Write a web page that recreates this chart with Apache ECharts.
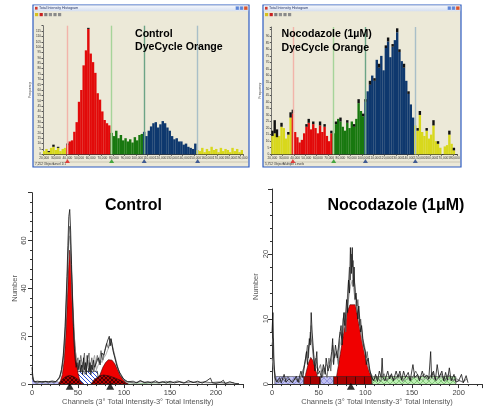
<!DOCTYPE html>
<html><head><meta charset="utf-8">
<script src="https://cdn.jsdelivr.net/npm/echarts@6/dist/echarts.min.js"></script>
<style>html,body{margin:0;padding:0;background:#fff}#c{width:485px;height:407px}</style>
</head><body><div id="c"></div>
<script>
// ===== Top-left: Control, DyeCycle Orange (bin width 2,000 from 20,000) =====
const tlBinStart = 20000, tlBinWidth = 2000;
const tlValues = [3,5,2,6,7,4,6,3,5,6,
  9,12,13,21,30,49,60,83,97,117,94,86,76,57,51,40,32,29,27,
  20,17,22,15,18,13,15,12,14,11,16,13,18,19,
  21,17,22,26,29,30,25,28,31,29,25,22,17,14,15,12,12,9,10,7,6,5,10,
  4,3,6,2,5,3,7,4,5,2,6,3,5,4,2,6,3,5,2,4];
const tlCaps = [0,0,1,0,2,0,1,0,0,0,
  1,0,0,0,0,0,0,0,0,1,0,0,0,0,0,0,0,0,0,
  0,0,0,0,0,0,0,0,0,0,0,0,0,0,
  0,0,0,0,0,0,0,0,0,0,0,0,0,0,0,0,0,0,0,0,0,0,0,
  0,0,0,0,0,0,0,0,0,0,0,0,0,0,0,0,0,0,0,0];
const tlRegionStart = [10, 29, 43, 66];   // red, green, blue, yellow start bins

// ===== Top-right: Nocodazole (1µM), DyeCycle Orange =====
const trBinStart = 20000, trBinWidth = 2000;
const trValues = [14,16,13,14,21,20,12,15,28,
  31,17,13,9,11,16,21,24,19,23,20,16,22,17,21,14,10,16,
  16,23,27,25,21,18,24,20,25,21,27,39,33,29,
  40,48,53,60,56,72,66,75,64,81,86,74,82,87,93,78,71,66,56,46,38,28,
  22,18,30,17,14,18,12,15,22,10,8,5,0,6,7,15,8,3,0];
const trCaps = [4,10,6,0,3,0,0,2,4,
  3,0,0,0,0,0,2,3,0,2,0,0,3,0,2,0,0,2,
  0,2,0,3,0,0,2,0,0,2,0,3,0,2,
  2,0,3,0,2,0,3,0,0,2,3,0,2,0,3,2,0,3,0,2,0,0,
  0,2,3,0,0,2,0,0,4,0,2,0,0,0,0,3,0,2,0];
const trRegionStart = [9, 27, 41, 63];

const regionColors = ['#D8D81C','#E20A0A','#18780F','#0E386E','#D8D81C'];
const gateLineColors = ['#F2B4AA','#A6D49A','#6CA486','#A9BFC8'];
const gateMarkColors = ['#E01818','#1E9A1E','#1A3C86','#1A3C86'];

// ===== Bottom-left: Control (ModFit-style) =====
const blTraceA = [[0,7],[1,3],[2,1],[4,0.5],[6,1.2],[8,0.6],[10,1],[12,0.4],[14,1.1],[16,0.6],[18,1],[20,0.5],[22,1.3],[24,0.7],[26,1],[28,2],[30,3],[32,6],[34,12],[36,24],[38,45],[39,58],[40,70],[41,73],[42,64],[43,50],[44,36],[45,24],[46,15],[47,10],[48,7],[49,9],[50,6],[52,10],[53,5],[54,8],[55,4],[56,11],[57,6],[58,9],[59,4],[60,12],[61,7],[62,5],[63,9],[64,4],[65,8],[66,6],[67,10],[68,7],[70,9],[72,11],[74,8],[76,13],[78,12],[80,15],[82,18],[84,20],[85,16],[86,19],[88,14],[90,11],[92,8],[94,6],[96,4],[98,3],[100,2],[102,1.5],[104,1],[106,0.6],[110,1.2],[114,0.5],[118,1.5],[122,0.6],[126,1],[130,0.5],[134,1.4],[138,0.6],[142,1],[146,0.4],[150,1.2],[155,0.5],[160,1],[165,0.4],[170,1.5],[175,0.6],[180,1.2],[185,0.4],[190,1.4],[194,2.5],[196,0.5],[200,0.3],[205,0.8],[208,1.6],[210,0.2],[215,1],[220,0.3],[225,0.2]];
const blTraceB = [[0,5],[1,2],[3,0.8],[6,0.4],[9,1],[12,0.6],[15,1.2],[18,0.5],[21,1],[24,0.6],[27,1.5],[30,2.5],[32,5],[34,10],[36,20],[38,40],[40,62],[41,66],[42,58],[43,46],[44,32],[46,17],[47,12],[48,9],[50,11],[51,6],[53,12],[55,7],[57,13],[58,5],[60,9],[62,13],[63,6],[65,11],[67,5],[69,8],[71,12],[73,9],[75,14],[77,10],[79,14],[81,17],[83,15],[85,19],[87,17],[89,13],[91,10],[93,7],[95,5],[97,4],[99,2],[102,1],[106,0.8],[112,0.5],[117,1.3],[124,0.5],[131,1],[138,0.4],[145,1.2],[152,0.6],[158,1.3],[166,0.5],[173,1.1],[180,0.4],[187,1],[194,0.6],[203,0.9],[212,0.4],[220,0.6]];
const blTraceC = [[0,4],[2,1.5],[5,0.5],[10,0.8],[15,0.4],[20,1],[25,0.8],[29,2],[31,4],[33,8],[35,16],[37,32],[39,52],[40,60],[41,62],[42,55],[43,42],[45,26],[47,14],[49,10],[51,8],[53,5],[55,9],[57,4],[59,7],[61,10],[63,5],[66,9],[68,12],[70,6],[72,8],[74,10],[76,9],[78,11],[80,12],[82,14],[84,16],[86,17],[88,15],[90,12],[92,9],[94,6],[96,4],[98,3],[101,1.5],[105,0.8],[110,0.4],[120,1],[130,0.6],[140,0.8],[150,0.4],[160,0.9],[170,0.5],[180,0.9],[190,0.5],[200,0.6],[210,0.3]];
const blDebris = [[0,2.6],[1.5,1.4],[4,1],[28,1],[31,0]];
const blSPhase = [[47,0],[48.5,5.4],[71,5.4],[73,0]];
const blG1 = [[29,0],[31,1.5],[33,4],[35,10],[37,22],[38.5,36],[40,50],[41,56],[42,54],[43,47],[44.5,33],[46,20],[48,10],[50,4.5],[52,1.5],[54,0]];
const blG2 = [[67,0],[71,1.5],[74,4],[77,7],[80,9],[83,10.2],[85,10.5],[87,10],[90,8.5],[93,6],[96,3.5],[99,1.8],[102,0.6],[105,0]];
const blAggA = [[29,0],[33,2],[37,3.2],[41,3.6],[45,3.2],[49,2.2],[53,1],[56,0]];
const blAggB = [[64,0],[68,2],[73,3.4],[78,3.8],[84,3.4],[90,2.6],[96,1.6],[101,0.6],[104,0]];
const blPost = [[104,0],[104,0.7],[150,0.7],[150,0]];
const blPeakMarks = [[41,-0.95],[85,-0.95]];

// ===== Bottom-right: Nocodazole (1μM) =====
const brTraceA = [[0,8],[1,11],[2,4],[3,1],[5,0.3],[8,1],[10,0.2],[13,1.5],[15,0.3],[18,0.8],[22,0.2],[26,1.2],[28,0.3],[31,2],[33,1],[35,3],[37,5],[38,3],[40,7],[41,6],[42,11],[43,8],[44,6],[45,4],[46,2],[48,5],[49,1.5],[51,2],[53,1],[55,3],[57,1.5],[58,4],[60,2],[62,3],[64,5],[65,7],[66,3],[68,6],[70,4],[72,7],[74,9],[75,6],[77,11],[78,9],[80,13],[81,11],[82,16],[83,14],[84,21],[85,17],[86,21],[87,15],[88,18],[89,13],[90,14],[92,10],[93,12],[95,8],[96,9],[98,6],[100,5],[101,3],[103,4],[105,2],[107,1],[109,0.5],[111,1.5],[113,0.4],[115,2],[117,1],[118,4],[119,1],[121,0.5],[124,2],[126,0.8],[128,1.6],[130,0.5],[133,2],[135,1],[137,2],[139,0.6],[141,2],[143,1],[146,1.8],[148,0.5],[151,3],[153,1],[156,1.5],[158,0.5],[161,2],[163,1],[166,1.4],[168,0.8],[170,5],[171,1],[173,2],[175,0.6],[177,3],[179,1],[182,2],[184,0.5],[186,1.8],[188,0.6],[190,2.5],[192,0.5],[195,1.5],[197,0.3],[200,0.5],[203,1.5],[205,0.2],[208,1.3],[210,0.2]];
const brTraceB = [[0,6],[1,7],[2,3],[4,0.8],[7,0.2],[10,1],[14,0.4],[17,1.2],[21,0.3],[25,0.9],[29,0.2],[32,1.5],[34,2.5],[36,4],[38,6],[39,4],[41,8],[43,6],[45,3],[47,4],[49,2],[52,3],[54,1],[56,2.5],[59,1],[61,4],[63,2],[65,6],[67,4],[69,5],[71,3],[73,8],[75,7],[76,10],[78,11],[79,8],[81,14],[83,18],[84,16],[85,20],[86,18],[87,19],[88,16],[89,15],[91,12],[92,13],[94,9],[95,10],[97,7],[99,6],[101,4],[102,5],[104,2.5],[106,1.5],[108,0.6],[112,1.2],[116,0.4],[120,1.6],[123,0.5],[127,1.4],[131,0.6],[136,1.5],[140,0.4],[144,1.3],[149,0.6],[154,2],[158,0.8],[163,1.6],[167,0.6],[172,1.8],[176,0.5],[181,1.6],[185,0.4],[189,1.5],[194,0.6],[198,0.8],[204,0.3],[209,0.8]];
const brTraceC = [[0,4],[2,2],[5,0.5],[9,0.4],[13,0.9],[19,0.3],[24,0.7],[30,0.8],[33,2],[36,3.5],[39,5.5],[41,7],[42,9],[44,5],[46,3],[50,2],[54,2],[58,3],[62,2.5],[66,4],[70,5],[73,6],[76,8],[79,10],[82,13],[84,15],[86,16],[88,14],[90,12],[93,10],[96,7],[99,5],[102,3],[105,1.8],[110,0.8],[115,1],[120,0.6],[126,1],[132,0.8],[138,1],[145,0.7],[152,1.2],[160,0.7],[168,1],[175,0.8],[183,1],[190,0.7],[198,0.5],[206,0.4]];
const brBandBlue1 = [[3,0],[3,1.17],[34,1.17],[34,0]];
const brBandRed1 = [[34,0],[34,1.17],[52,1.17],[52,0]];
const brBandBlue2 = [[52,0],[52,1.17],[66,1.17],[66,0]];
const brBandRed2 = [[66,0],[66,1.17],[107,1.17],[107,0]];
const brBandGreen = [[107,0],[107,1.17],[197,1.17],[197,0]];
const brG1 = [[35,0],[36,1.5],[39,3.2],[41.5,4.1],[44,3.6],[46,2.5],[48,1.6],[50,0]];
const brG2 = [[68,0],[69,1],[73,4.5],[77,8],[80.5,11],[83.5,12.2],[89.5,12.2],[92,10],[96,7],[100,4.2],[104,2],[107,0.8],[107.5,0]];
const brPeakMarks = [[84.5,-0.33]];

// ===== text =====
const tlTitle = ['Control', 'DyeCycle Orange'];
const trTitle = ['Nocodazole (1µM)', 'DyeCycle Orange'];
const blTitle = 'Control';
const brTitle = 'Nocodazole (1μM)';
const xName = 'Channels (3° Total Intensity-3° Total Intensity)';
const yName = 'Number';
const winTitle = 'Total Intensity Histogram';
const FONT = '"Liberation Sans", Arial, sans-serif';

// ---------- helpers ----------
function cats(start, width, n){ const a=[]; for(let i=0;i<n;i++) a.push((start+i*width).toLocaleString('en-US')); return a; }
function regionOf(i, starts){ let r=0; for(const s of starts) if(i>=s) r++; return r; }
function pattern(bg, stroke, kind, s, lw){
  const c=document.createElement('canvas'); c.width=c.height=s;
  const g=c.getContext('2d'); g.fillStyle=bg; g.fillRect(0,0,s,s);
  g.strokeStyle=stroke; g.lineWidth=lw||1; g.beginPath();
  if(kind==='diag'||kind==='cross'){ for(const k of [-s,0,s]){ g.moveTo(0,k); g.lineTo(s,k+s);} }
  if(kind==='cross'){ for(const k of [0,s,2*s]){ g.moveTo(0,k); g.lineTo(s,k-s);} }
  if(kind==='vert'){ g.moveTo(s/2,0); g.lineTo(s/2,s); }
  g.stroke();
  return {image:c, repeat:'repeat'};
}
const patBlue = pattern('#ffffff','#2F4FD8','diag',4,1);
const patRed = pattern('#B40000','#300000','cross',4,0.8);
const patLav = pattern('#BFC0F2','#6A6AC8','cross',6,0.5);
const patGreen = pattern('#BDF0B4','#4C9A44','cross',6,0.5);
const patDkRed = pattern('#A80000','#300000','vert',9,0.7);

const tlCats = cats(tlBinStart, tlBinWidth, tlValues.length);
const trCats = cats(trBinStart, trBinWidth, trValues.length);

function topAxes(gi, catsArr, ymax){
  return {
    x: {gridIndex:gi, type:'category', data:catsArr, boundaryGap:true,
      axisLine:{lineStyle:{color:'#3a3a3a', width:1}},
      axisTick:{show:true, interval:4, length:1.5, lineStyle:{color:'#555'}},
      axisLabel:{interval:4, fontSize:3.2, color:'#333', margin:2, fontFamily:FONT}},
    y: {gridIndex:gi, type:'value', min:0, max:ymax, interval:5,
      axisLine:{show:true, lineStyle:{color:'#555', width:0.8}},
      axisTick:{show:true, length:1.5, lineStyle:{color:'#555'}},
      axisLabel:{fontSize:3.2, color:'#333', margin:2, fontFamily:FONT, formatter:v=> v<ymax-2? v : ''},
      splitLine:{show:false},
      name:'Frequency', nameLocation:'middle', nameGap:8, nameTextStyle:{fontSize:3.3, color:'#333'}}
  };
}
function topSeries(gi, catsArr, vals, caps, starts, markY, bw){
  const data = vals.map((v,i)=>({value:v, itemStyle:{color:regionColors[regionOf(i,starts)]}}));
  return [
    {type:'bar', xAxisIndex:gi, yAxisIndex:gi, stack:'t'+gi, data, barWidth:bw, z:3,
     markLine:{silent:true, symbol:'none', label:{show:false}, animation:false,
       data: starts.map((s,k)=>({xAxis:catsArr[s], lineStyle:{color:gateLineColors[k], width:1.4, type:'solid'}}))}},
    {type:'bar', xAxisIndex:gi, yAxisIndex:gi, stack:'t'+gi, data:caps, barWidth:bw, itemStyle:{color:'#111'}, z:3},
    {type:'scatter', xAxisIndex:gi, yAxisIndex:gi, clip:false, symbol:'triangle', symbolSize:[5,4], z:5,
     data: starts.map((s,k)=>({value:[catsArr[s], markY], itemStyle:{color:gateMarkColors[k]}}))}
  ];
}
function bottomAxes(gi, xmax, ymax, yint, labMargin, nameGap){
  return {
    x: {gridIndex:gi, type:'value', min:0, max:xmax, interval:50,
      axisLine:{lineStyle:{color:'#333'}}, axisTick:{length:4, lineStyle:{color:'#333'}},
      minorTick:{show:true, splitNumber:5, length:2, lineStyle:{color:'#333'}},
      axisLabel:{fontSize:7.5, color:'#444', margin:5, fontFamily:FONT, formatter:v=> v%50===0? String(v):''},
      splitLine:{show:false}, minorSplitLine:{show:false},
      name:xName, nameLocation:'middle', nameGap:11.5, nameTextStyle:{fontSize:7.5, color:'#555', fontFamily:FONT}},
    y: {gridIndex:gi, type:'value', min:0, max:ymax, interval:yint,
      axisLine:{show:true, lineStyle:{color:'#333'}}, axisTick:{show:true, length:4, lineStyle:{color:'#333'}},
      minorTick:{show:true, splitNumber:5, length:2, lineStyle:{color:'#333'}},
      axisLabel:{fontSize:7.5, color:'#444', rotate:90, margin:labMargin, fontFamily:FONT, formatter:v=> v<ymax? String(v):''},
      splitLine:{show:false}, minorSplitLine:{show:false},
      name:yName, nameLocation:'middle', nameGap:nameGap, nameRotate:90, nameTextStyle:{fontSize:7.5, color:'#555', fontFamily:FONT}}
  };
}
function area(gi, data, fill, z, stroke, lw){
  return {type:'line', xAxisIndex:gi, yAxisIndex:gi, data, symbol:'none', smooth:false, z,
    lineStyle:{color:stroke||'#222', width:lw==null?0.6:lw}, areaStyle:{color:fill, opacity:1}};
}
function trace(gi, data, color, z, w){
  return {type:'line', xAxisIndex:gi, yAxisIndex:gi, data, symbol:'none', z, lineStyle:{color, width:w||0.8}};
}

const tA = topAxes(0, tlCats, 120), rA = topAxes(1, trCats, 97);
const bA = bottomAxes(2, 230, 80, 20, 4, 10.5), cA = bottomAxes(3, 225, 30, 10, 2, 12);

// ---------- window chrome (decoration) ----------
function windowChrome(x, y, w, h, status1, status2){
  const els = [];
  els.push({type:'rect', shape:{x, y, width:w, height:h}, style:{fill:'#ECE9D8', stroke:'#2D5CC2', lineWidth:1.2}, z:-10});
  els.push({type:'rect', shape:{x:x+0.8, y:y+0.6, width:w-1.6, height:5.6},
    style:{fill:new echarts.graphic.LinearGradient(0,0,0,1,[{offset:0,color:'#F6F8FC'},{offset:1,color:'#D4DEF0'}])}, z:-9});
  els.push({type:'rect', shape:{x:x+2, y:y+1.8, width:2.6, height:2.8}, style:{fill:'#D23A2A'}, z:-8});
  els.push({type:'text', x:x+6, y:y+3.4, style:{text:winTitle, font:'3.6px '+FONT, fill:'#223366', verticalAlign:'middle'}, z:-8});
  const bx = x+w-13.5;
  els.push({type:'rect', shape:{x:bx, y:y+1.2, width:3.6, height:3.8, r:0.5}, style:{fill:'#5E86D8', stroke:'#FFFFFF', lineWidth:0.3}, z:-8});
  els.push({type:'rect', shape:{x:bx+4.2, y:y+1.2, width:3.6, height:3.8, r:0.5}, style:{fill:'#5E86D8', stroke:'#FFFFFF', lineWidth:0.3}, z:-8});
  els.push({type:'rect', shape:{x:bx+8.4, y:y+1.2, width:3.8, height:3.8, r:0.5}, style:{fill:'#D9542E', stroke:'#FFFFFF', lineWidth:0.3}, z:-8});
  const icons = ['#D8C020','#C82020','#808080','#909090','#888888','#8C8C8C'];
  icons.forEach((c,k)=> els.push({type:'rect', shape:{x:x+2+k*4.6, y:y+8, width:3.2, height:3.2}, style:{fill:c}, z:-8}));
  els.push({type:'line', shape:{x1:x+1, y1:y+h-5, x2:x+w-1, y2:y+h-5}, style:{stroke:'#B8B4A0', lineWidth:0.6}, z:-8});
  els.push({type:'text', x:x+2, y:y+h-2.6, style:{text:status1, font:'3.2px '+FONT, fill:'#333', verticalAlign:'middle'}, z:-8});
  els.push({type:'text', x:x+20, y:y+h-2.6, style:{text:status2, font:'3.2px '+FONT, fill:'#333', verticalAlign:'middle'}, z:-8});
  return els;
}
function titleText(x, y, text, size){
  return {type:'text', x, y, style:{text, font:'bold '+size+'px '+FONT, fill:'#000', verticalAlign:'middle'}, z:50};
}

const graphics = [
  ...windowChrome(33, 5, 216, 162, '7,252 Objects', 'Level 1/1'),
  ...windowChrome(263, 5, 198, 162, '5,752 Objects', 'Multiple Levels'),
  titleText(135, 34, tlTitle[0], 10.6), titleText(135, 47.5, tlTitle[1], 10.6),
  titleText(281.5, 34.5, trTitle[0], 10.6), titleText(281.5, 47.8, trTitle[1], 10.6),
  titleText(105, 205.5, blTitle, 16), titleText(327.5, 205.5, brTitle, 16)
];

const option = {
  animation:false,
  backgroundColor:'#ffffff',
  textStyle:{fontFamily:FONT},
  grid:[
    {left:43, top:25.7, width:200, height:128.6},
    {left:271.3, top:27, width:186, height:127.3},
    {left:32, top:192.7, width:211.6, height:194},
    {left:272, top:189, width:212.6, height:198}
  ],
  xAxis:[tA.x, rA.x, bA.x, cA.x],
  yAxis:[tA.y, rA.y, bA.y, cA.y],
  graphic: graphics,
  series:[
    ...topSeries(0, tlCats, tlValues, tlCaps, tlRegionStart, -6.2, 2.45),
    ...topSeries(1, trCats, trValues, trCaps, trRegionStart, -5.1, 2.4),
    // bottom-left
    area(2, blDebris, patLav, 2, '#555', 0.5),
    area(2, blPost, patGreen, 2, '#3A8A3A', 0.5),
    area(2, blSPhase, patBlue, 3, '#111', 0.7),
    area(2, blG1, '#F00000', 4, '#400', 0.6),
    area(2, blG2, '#F00000', 4, '#400', 0.6),
    area(2, blAggA, patRed, 5, '#111', 0.6),
    area(2, blAggB, patRed, 5, '#111', 0.6),
    trace(2, blTraceC, '#9a9a9a', 6, 0.8),
    trace(2, blTraceB, '#5a5a5a', 7, 0.8),
    trace(2, blTraceA, '#111111', 8, 0.8),
    {type:'scatter', xAxisIndex:2, yAxisIndex:2, clip:false, symbol:'triangle', symbolSize:[8,7], itemStyle:{color:'#000'}, data:blPeakMarks, z:9},
    // bottom-right
    area(3, brG1, '#F00000', 3, '#400', 0.6),
    area(3, brG2, '#F00000', 3, '#400', 0.6),
    area(3, brBandBlue1, patLav, 4, '#333', 0.5),
    area(3, brBandRed1, patDkRed, 4, '#222', 0.5),
    area(3, brBandBlue2, patLav, 4, '#333', 0.5),
    area(3, brBandRed2, patDkRed, 4, '#222', 0.5),
    area(3, brBandGreen, patGreen, 4, '#333', 0.5),
    trace(3, brTraceC, '#9a9a9a', 6, 0.8),
    trace(3, brTraceB, '#5a5a5a', 7, 0.8),
    trace(3, brTraceA, '#111111', 8, 0.8),
    {type:'scatter', xAxisIndex:3, yAxisIndex:3, clip:false, symbol:'triangle', symbolSize:[8,7], itemStyle:{color:'#000'}, data:brPeakMarks, z:9}
  ]
};
const chart = echarts.init(document.getElementById('c'), null, {renderer:'canvas'});
chart.setOption(option);
</script>
</body></html>
